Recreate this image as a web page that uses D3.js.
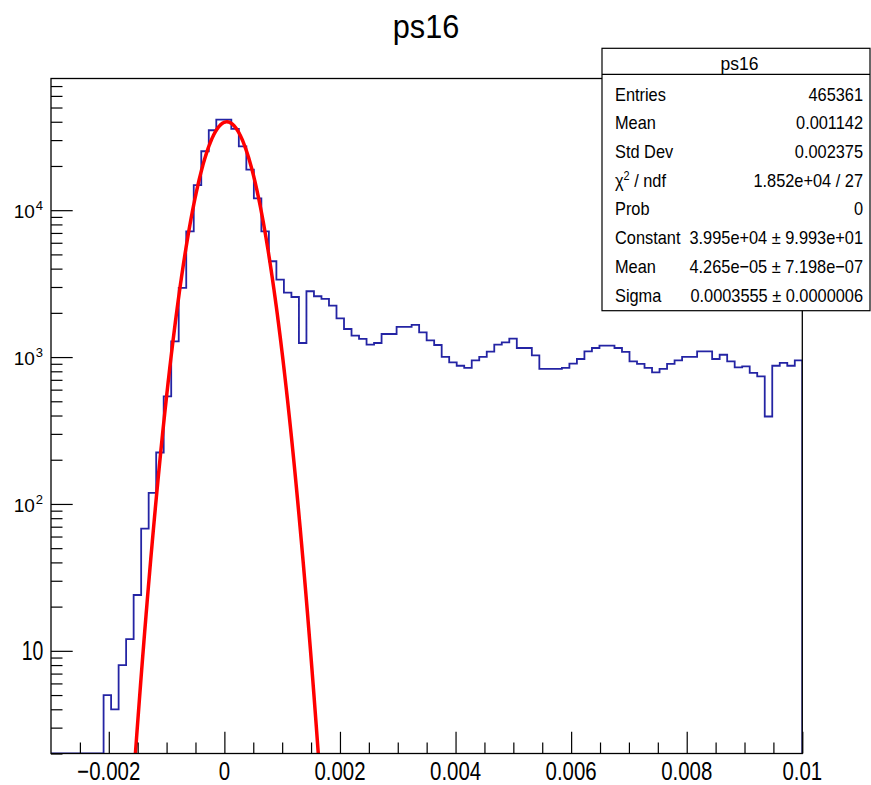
<!DOCTYPE html>
<html>
<head>
<meta charset="utf-8">
<script src="https://cdn.jsdelivr.net/npm/d3@7"></script>
<style>
  html, body { margin: 0; padding: 0; background: #fff; }
  svg { display: block; font-family: "Liberation Sans", Arial, Helvetica, sans-serif; }
</style>
</head>
<body>
<svg id="chart" width="871" height="785"></svg>
<script>
// ---- histogram definition -------------------------------------------------
const histTitle = "ps16";
const xMin = -0.003, xMax = 0.01, nBins = 100;
const yMin = 2, yMax = 78800;

// bin contents, 100 bins of width 0.00013 starting at -0.003
const counts = [
  0, 0, 0, 0, 0, 0, 0, 5, 4, 8,
  12, 24, 68, 119, 224, 540, 1280, 2960, 7180, 14800,
  25200, 35000, 41400, 41400, 35800, 27200, 18900, 12050, 7180, 4490,
  3370, 2750, 2565, 1247, 2805, 2595, 2490, 2240, 1835, 1553,
  1400, 1328, 1214, 1247, 1436, 1436, 1603, 1603, 1656, 1473,
  1298, 1208, 1002, 920, 873, 843, 950, 1002, 1088, 1214,
  1259, 1334, 1153, 1153, 1027, 830, 830, 830, 843, 902,
  970, 1094, 1153, 1197, 1197, 1153, 1084, 935, 898, 843,
  787, 830, 898, 950, 1002, 1002, 1094, 1094, 970, 1037,
  935, 851, 865, 780, 739, 394, 873, 912, 873, 950
];

// gaussian fit result
const fitConstant = 3.995e4;
const fitMean = 4.265e-5;
const fitSigma = 0.0003555;
const fitRange = [-0.0019, 0.0020];

// axis ticks
const xMajorTicks = [-0.002, 0, 0.002, 0.004, 0.006, 0.008, 0.01];
const xTickLabels = ["\u22120.002", "0", "0.002", "0.004", "0.006", "0.008", "0.01"];
const yDecades = [10, 100, 1000, 10000];
const yTickBase = ["10", "10", "10", "10"];
const yTickExp = ["", "2", "3", "4"];

// statistics box
const statsHeader = "ps16";
const statsNames = ["Entries", "Mean", "Std Dev", "CHI2", "Prob", "Constant", "Mean", "Sigma"];
const statsValues = ["465361", "0.001142", "0.002375", "1.852e+04 / 27", "0",
  "3.995e+04 \u00b1 9.993e+01", "4.265e\u221205 \u00b1 7.198e\u221207", "0.0003555 \u00b1 0.0000006"];

// ---- layout ---------------------------------------------------------------
const frame = { left: 51, right: 802.3, top: 78.5, bottom: 753.5 };
const svg = d3.select("#chart");

const x = d3.scaleLinear().domain([xMin, xMax]).range([frame.left, frame.right]);
const y = d3.scaleLog().domain([yMin, yMax]).range([frame.bottom, frame.top]);

svg.append("defs").append("clipPath").attr("id", "frameClip")
  .append("rect")
  .attr("x", frame.left).attr("y", frame.top)
  .attr("width", frame.right - frame.left).attr("height", frame.bottom - frame.top);

// ---- histogram outline ----------------------------------------------------
const binW = (xMax - xMin) / nBins;
const yOf = v => (v >= yMin ? y(v) : frame.bottom);
const pts = [[x(xMin), frame.bottom]];
counts.forEach((c, i) => {
  const yl = yOf(c);
  pts.push([x(xMin + i * binW), yl]);
  pts.push([x(xMin + (i + 1) * binW), yl]);
});
pts.push([x(xMax), frame.bottom]);

svg.append("path")
  .attr("clip-path", "url(#frameClip)")
  .attr("d", d3.line()(pts))
  .attr("fill", "none")
  .attr("stroke", "#2424a4")
  .attr("stroke-width", 1.8)
  .attr("stroke-linejoin", "miter");

// ---- gaussian fit ---------------------------------------------------------
const gaus = t => fitConstant * Math.exp(-0.5 * Math.pow((t - fitMean) / fitSigma, 2));
const fitXs = d3.range(0, 401).map(k => fitRange[0] + (fitRange[1] - fitRange[0]) * k / 400);
svg.append("path")
  .attr("clip-path", "url(#frameClip)")
  .attr("d", d3.line().x(t => x(t)).y(t => y(gaus(t)))(fitXs))
  .attr("fill", "none")
  .attr("stroke", "#ff0000")
  .attr("stroke-width", 3.5);

// ---- axes -----------------------------------------------------------------
const xMinor = d3.range(-0.0025, 0.0099, 0.0005)
  .filter(v => !xMajorTicks.some(m => Math.abs(m - v) < 1e-9));

function tickGroup(axis, transform) {
  const g = svg.append("g").attr("transform", transform).call(axis);
  g.select(".domain").remove();
  g.selectAll("line").attr("stroke", "#000").attr("stroke-width", 1.2);
  g.selectAll("text").remove();
  return g;
}

tickGroup(d3.axisBottom(x).tickValues(xMajorTicks).tickSizeInner(-21.7).tickSizeOuter(0).tickFormat(""),
  `translate(0,${frame.bottom})`);
tickGroup(d3.axisBottom(x).tickValues(xMinor).tickSizeInner(-11).tickSizeOuter(0).tickFormat(""),
  `translate(0,${frame.bottom})`);

const yMinor = [];
[1, 10, 100, 1000, 10000].forEach(d => {
  for (let m = 2; m <= 9; m++) {
    const v = m * d;
    if (v >= yMin && v <= yMax) yMinor.push(v);
  }
});
tickGroup(d3.axisLeft(y).tickValues(yDecades).tickSizeInner(-21.7).tickSizeOuter(0).tickFormat(""),
  `translate(${frame.left},0)`);
tickGroup(d3.axisLeft(y).tickValues(yMinor).tickSizeInner(-11.5).tickSizeOuter(0).tickFormat(""),
  `translate(${frame.left},0)`);

// x tick labels
svg.append("g").selectAll("text").data(xMajorTicks).join("text")
  .attr("transform", d => `translate(${x(d)},779.5) scale(0.8,1)`)
  .attr("text-anchor", "middle")
  .attr("font-size", 25.5)
  .attr("fill", "#000")
  .text((d, i) => xTickLabels[i]);

// y tick labels
yDecades.forEach((d, i) => {
  if (yTickExp[i] === "") {
    svg.append("text")
      .attr("transform", `translate(43.3,${y(d) + 9.6}) scale(0.72,1)`)
      .attr("text-anchor", "end")
      .attr("font-size", 27)
      .attr("fill", "#000")
      .text(yTickBase[i]);
  } else {
    const t = svg.append("text")
      .attr("x", 43).attr("y", y(d) + 8)
      .attr("text-anchor", "end")
      .attr("font-size", 19)
      .attr("fill", "#000");
    t.append("tspan").text(yTickBase[i]);
    t.append("tspan").attr("dy", -8).attr("dx", 1).attr("font-size", 13).text(yTickExp[i]);
  }
});

// frame
svg.append("rect")
  .attr("x", frame.left).attr("y", frame.top)
  .attr("width", frame.right - frame.left).attr("height", frame.bottom - frame.top)
  .attr("fill", "none").attr("stroke", "#000").attr("stroke-width", 1.3);

// title
svg.append("text")
  .attr("transform", "translate(426,38) scale(0.93,1)")
  .attr("text-anchor", "middle")
  .attr("font-size", 33)
  .attr("fill", "#000")
  .text(histTitle);

// ---- statistics box -------------------------------------------------------
const box = { left: 602, right: 870, top: 48.3, bottom: 310.7, sep: 74.3 };
const stats = svg.append("g");
stats.append("rect")
  .attr("x", box.left).attr("y", box.top)
  .attr("width", box.right - box.left).attr("height", box.bottom - box.top)
  .attr("fill", "#fff").attr("stroke", "#000").attr("stroke-width", 1.2);
stats.append("line")
  .attr("x1", box.left).attr("x2", box.right)
  .attr("y1", box.sep).attr("y2", box.sep)
  .attr("stroke", "#000").attr("stroke-width", 1.2);
stats.append("text")
  .attr("transform", "translate(739.5,69.5) scale(0.93,1)")
  .attr("text-anchor", "middle")
  .attr("font-size", 18.8)
  .text(statsHeader);

const rowBase = d3.scaleLinear().domain([0, statsNames.length - 1]).range([100.5, 301.5]);
statsNames.forEach((name, i) => {
  const tl = stats.append("text")
    .attr("transform", `translate(615,${rowBase(i)}) scale(0.87,1)`)
    .attr("font-size", 18.8);
  if (name === "CHI2") {
    tl.append("tspan").text("\u03c7");
    tl.append("tspan").attr("dy", -7).attr("font-size", 12.5).text("2");
    tl.append("tspan").attr("dy", 7).text(" / ndf");
  } else {
    tl.text(name);
  }
  stats.append("text")
    .attr("transform", `translate(863,${rowBase(i)}) scale(0.87,1)`)
    .attr("text-anchor", "end")
    .attr("font-size", 18.8)
    .text(statsValues[i]);
});
</script>
</body>
</html>
